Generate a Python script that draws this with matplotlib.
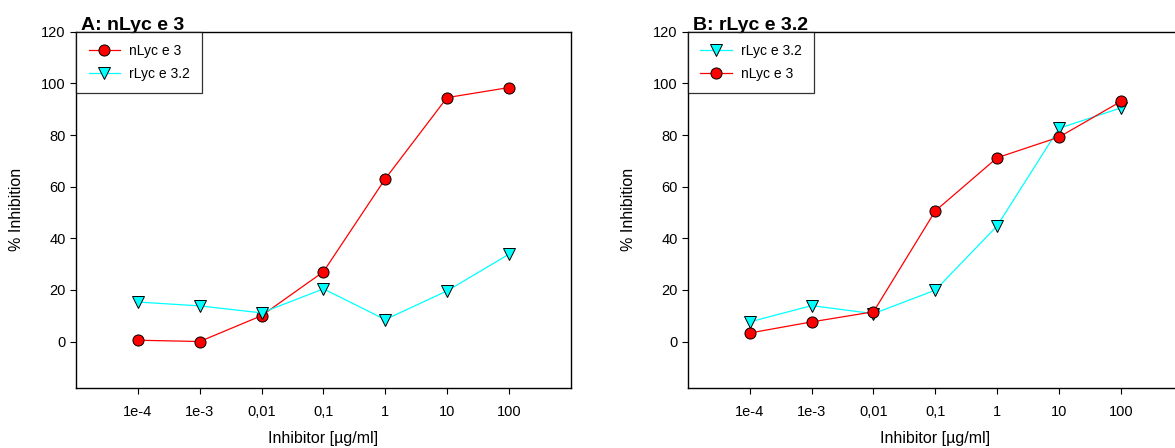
import matplotlib
matplotlib.use("Agg")
from matplotlib import pyplot as plt

plt.rcParams['font.family'] = ['Liberation Sans', 'DejaVu Sans']

concentrations = [1e-4, 1e-3, 1e-2, 1e-1, 1, 10, 100]
tick_labels = ["1e-4", "1e-3", "0,01", "0,1", "1", "10", "100"]

# panel A
a_nlyc = [0.5, 0.0, 10.0, 27.0, 63.0, 94.5, 98.4]
a_rlyc = [15.3, 13.8, 11.1, 20.4, 8.5, 19.6, 33.8]

# panel B
b_rlyc = [7.6, 13.9, 10.8, 19.9, 44.8, 82.6, 90.5]
b_nlyc = [3.3, 7.6, 11.5, 50.6, 71.2, 79.2, 93.0]


def draw_series(ax, values, kind, label):
    if kind == "n":
        ax.plot(concentrations, values, color="red", lw=0.9, marker="o", ms=8,
                mfc="red", mec="black", mew=0.7, label=label, clip_on=False)
    else:
        ax.plot(concentrations, values, color="cyan", lw=0.9, marker="v", ms=8,
                mfc="cyan", mec="black", mew=0.7, label=label, clip_on=False)


def style_axes(ax, title):
    ax.set_xscale("log")
    ax.set_xlim(1e-5, 1e3)
    ax.set_ylim(-18, 120)
    ax.set_xticks(concentrations)
    ax.set_xticklabels(tick_labels)
    ax.minorticks_off()
    ax.set_yticks([0, 20, 40, 60, 80, 100, 120])
    ax.tick_params(direction="out", length=4, width=0.8, labelsize=10.5,
                   top=False, right=False)
    ax.tick_params(axis="x", pad=8)
    ax.set_xlabel("Inhibitor [µg/ml]", fontsize=11.5, labelpad=9)
    ax.set_ylabel("% Inhibition", fontsize=11.5, labelpad=12)
    for s in ax.spines.values():
        s.set_linewidth(1.0)
    ax.text(0.01, 0.995, title, transform=ax.transAxes, fontsize=14,
            fontweight="bold", ha="left", va="bottom")
    leg = ax.legend(loc="upper left", bbox_to_anchor=(0, 1), borderaxespad=0,
                    fontsize=10, frameon=True, fancybox=False,
                    handlelength=2.3, borderpad=0.9, labelspacing=0.6,
                    handletextpad=0.6)
    leg.get_frame().set_edgecolor("black")
    leg.get_frame().set_linewidth(0.9)


fig = plt.figure(figsize=(11.75, 4.48), dpi=100)

ax1 = fig.add_axes([0.0647, 0.134, 0.421, 0.795])
draw_series(ax1, a_nlyc, "n", "nLyc e 3")
draw_series(ax1, a_rlyc, "r", "rLyc e 3.2")
style_axes(ax1, "A: nLyc e 3")

ax2 = fig.add_axes([0.5855, 0.134, 0.421, 0.795])
draw_series(ax2, b_rlyc, "r", "rLyc e 3.2")
draw_series(ax2, b_nlyc, "n", "nLyc e 3")
style_axes(ax2, "B: rLyc e 3.2")

fig.savefig("out.png", dpi=100)
